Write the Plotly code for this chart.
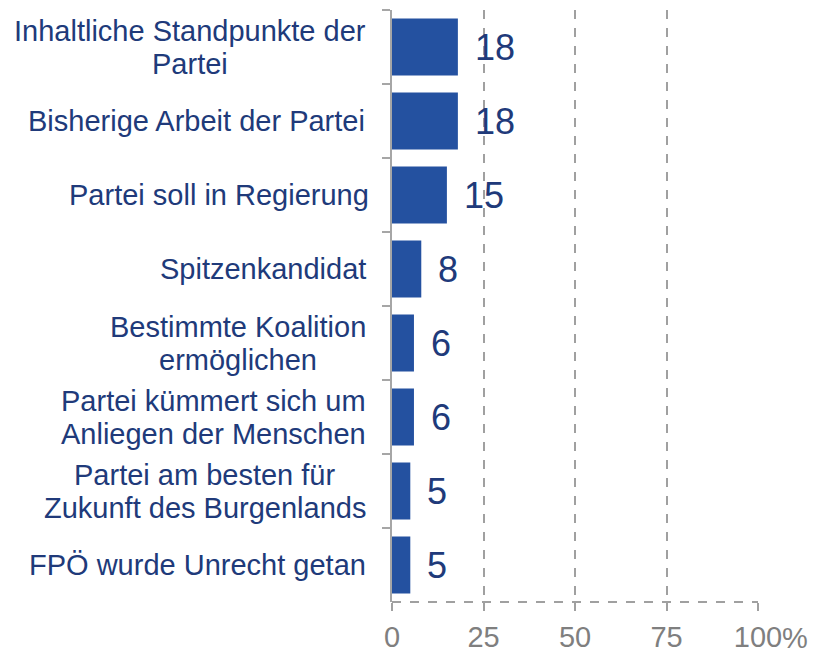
import plotly.graph_objects as go

categories = [
    "Inhaltliche Standpunkte der<br>Partei",
    "Bisherige Arbeit der Partei",
    "Partei soll in Regierung",
    "Spitzenkandidat",
    "Bestimmte Koalition<br>ermöglichen",
    "Partei kümmert sich um<br>Anliegen der Menschen",
    "Partei am besten für<br>Zukunft des Burgenlands",
    "FPÖ wurde Unrecht getan",
]
values = [18, 18, 15, 8, 6, 6, 5, 5]
tick_vals = [0, 25, 50, 75, 100]
tick_text = ["0", "25", "50", "75", "100"]
pct_suffix = "%"

FONT = "Arial, Liberation Sans, sans-serif"
BAR = "#2451A0"
NAVY = "#203A7A"
GREY_TXT = "#7F7F7F"
GRID = "#A0A0A0"
CAT_SIZE = 29
LINE_H = 33
LABEL_GAP = 26

# Arial / Liberation Sans advance widths (per 1000 em) for centring multi-line labels
ARIAL_W = {
    " ": 278, "A": 667, "B": 667, "F": 611, "I": 278, "K": 667, "M": 833, "P": 667,
    "S": 667, "U": 722, "Z": 611, "Ö": 778,
    "a": 556, "b": 556, "c": 500, "d": 556, "e": 556, "f": 278, "g": 556, "h": 556,
    "i": 222, "k": 500, "l": 222, "m": 833, "n": 556, "o": 556, "p": 556, "r": 333,
    "s": 500, "t": 278, "u": 556, "w": 722, "z": 500, "ö": 556, "ü": 556,
}


def text_width(s, size):
    return sum(ARIAL_W.get(ch, 556) for ch in s) * size / 1000.0


fig = go.Figure()
fig.add_trace(go.Bar(
    x=values, y=categories, orientation="h",
    marker=dict(color=BAR, line=dict(width=0)),
    hoverinfo="skip",
))

annotations = []
for c, v in zip(categories, values):
    annotations.append(dict(
        x=v, y=c, xref="x", yref="y", text=str(v), showarrow=False,
        xanchor="left", yanchor="middle", xshift=15,
        font=dict(family=FONT, size=36, color=NAVY),
    ))
    lines = c.split("<br>")
    maxw = max(text_width(ln, CAT_SIZE) for ln in lines)
    n = len(lines)
    for i, ln in enumerate(lines):
        annotations.append(dict(
            x=0, y=c, xref="paper", yref="y", text=ln, showarrow=False,
            xanchor="center", yanchor="middle",
            xshift=-(LABEL_GAP + maxw / 2.0),
            yshift=((n - 1) / 2.0 - i) * LINE_H,
            font=dict(family=FONT, size=CAT_SIZE, color=NAVY),
        ))
annotations.append(dict(
    x=tick_vals[-1], y=0, xref="x", yref="paper", text=pct_suffix,
    showarrow=False, xanchor="left", yanchor="top", xshift=22, yshift=-18,
    font=dict(family=FONT, size=29, color=GREY_TXT),
))

fig.update_layout(
    width=809, height=646,
    margin=dict(l=384, r=59, t=2, b=52, autoexpand=False),
    paper_bgcolor="white", plot_bgcolor="white",
    showlegend=False, bargap=0.23,
    annotations=annotations,
    shapes=[dict(type="line", xref="paper", yref="paper", x0=0, x1=1, y0=0, y1=0,
                 line=dict(color=GRID, width=2, dash="dash"))],
    xaxis=dict(
        range=[0, 100], tickvals=tick_vals, ticktext=tick_text,
        showgrid=True, gridcolor=GRID, gridwidth=1.5, griddash="dash",
        zeroline=False, showline=False, automargin=False,
        ticks="outside", ticklen=8, tickcolor=GRID, tickwidth=2,
        tickfont=dict(family=FONT, size=29, color=GREY_TXT),
        ticklabelstandoff=1,
    ),
    yaxis=dict(
        categoryorder="array", categoryarray=categories, autorange="reversed",
        showticklabels=False, showgrid=False, zeroline=False, automargin=False,
        showline=True, linecolor="#A6A6A6", linewidth=2,
        ticks="outside", tickson="boundaries", ticklen=8, tickcolor="#A6A6A6", tickwidth=2,
    ),
)

fig.write_html("out.html")
